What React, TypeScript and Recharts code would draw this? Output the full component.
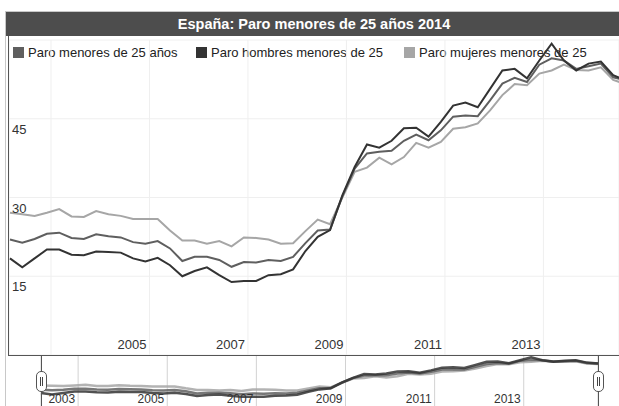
import React from 'react';
import { LineChart, Line, XAxis, YAxis, CartesianGrid } from 'recharts';

const title = 'España: Paro menores de 25 años 2014';

const quarters = [
  '2002T1', '2002T2', '2002T3', '2002T4',
  '2003T1', '2003T2', '2003T3', '2003T4',
  '2004T1', '2004T2', '2004T3', '2004T4',
  '2005T1', '2005T2', '2005T3', '2005T4',
  '2006T1', '2006T2', '2006T3', '2006T4',
  '2007T1', '2007T2', '2007T3', '2007T4',
  '2008T1', '2008T2', '2008T3', '2008T4',
  '2009T1', '2009T2', '2009T3', '2009T4',
  '2010T1', '2010T2', '2010T3', '2010T4',
  '2011T1', '2011T2', '2011T3', '2011T4',
  '2012T1', '2012T2', '2012T3', '2012T4',
  '2013T1', '2013T2', '2013T3', '2013T4',
  '2014T1', '2014T2', '2014T3',
];

// Paro menores de 25 años (total)
const paroTotal = [
  22.0, 21.4, 22.1, 23.1, 23.3, 22.3, 22.1, 23.0, 22.6, 22.4, 21.5, 21.2,
  21.7, 20.3, 17.9, 18.7, 18.7, 18.1, 16.8, 17.7, 17.6, 18.1, 17.9, 18.7,
  21.3, 23.7, 23.9, 30.2, 35.5, 38.4, 38.7, 38.9, 40.8, 42.0, 40.9, 42.8,
  45.4, 45.6, 45.5, 48.5, 51.7, 52.8, 52.0, 55.3, 56.5, 56.1, 54.5, 55.0,
  55.5, 52.9, 52.3,
];

// Paro hombres menores de 25
const paroHombres = [
  18.4, 16.7, 18.4, 20.1, 20.1, 19.1, 19.0, 19.7, 19.6, 19.5, 18.4, 17.8,
  18.5, 17.1, 15.0, 16.0, 16.7, 15.2, 13.9, 14.1, 14.1, 15.2, 15.4, 16.3,
  19.8, 22.5, 23.8, 30.4, 35.8, 40.1, 39.5, 40.8, 43.2, 43.3, 41.6, 44.4,
  47.5, 48.1, 47.2, 50.7, 54.2, 54.5, 52.7, 56.1, 59.3, 56.1, 54.2, 55.5,
  55.9, 53.3, 52.3,
];

// Paro mujeres menores de 25
const paroMujeres = [
  27.1, 26.8, 26.5, 27.1, 27.8, 26.4, 26.3, 27.4, 26.8, 26.5, 25.9, 25.9,
  25.9, 23.7, 21.8, 21.8, 21.2, 21.7, 20.7, 22.4, 22.3, 22.0, 21.2, 21.3,
  23.6, 25.8, 24.9, 30.0, 34.9, 35.7, 37.6, 36.3, 37.7, 40.4, 39.5, 40.6,
  43.1, 43.4, 44.1, 46.6, 49.5, 51.6, 51.4, 53.6, 54.2, 55.3, 54.3, 54.2,
  54.8, 52.4, 51.6,
];

const yearTicks = [2003, 2005, 2007, 2009, 2011, 2013];
const mainYearLabels = [2005, 2007, 2009, 2011, 2013];
const valueTicks = [15, 30, 45];

const seriesNames = [
  'Paro menores de 25 años',
  'Paro hombres menores de 25',
  'Paro mujeres menores de 25',
];

const COL_TOTAL = '#5f5f5f';
const COL_MEN = '#333333';
const COL_WOMEN = '#a6a6a6';

const data = quarters.map((q, i) => {
  const year = Number(q.slice(0, 4));
  const qi = Number(q.slice(5));
  return {
    q,
    t: year + (qi - 1) / 4 + 1 / 6,
    total: paroTotal[i],
    hombres: paroHombres[i],
    mujeres: paroMujeres[i],
  };
});

const FONT = 'Arial, "Liberation Sans", Helvetica, sans-serif';
const MAIN_BOTTOM = 355;

const legendItems = [
  { name: seriesNames[0], color: COL_TOTAL, left: 13 },
  { name: seriesNames[1], color: COL_MEN, left: 196 },
  { name: seriesNames[2], color: COL_WOMEN, left: 404 },
];

const MainXTick = (props: any) => {
  const { x, payload } = props;
  if (!mainYearLabels.includes(payload.value)) return <g />;
  return (
    <text x={x - 3} y={MAIN_BOTTOM - 6} textAnchor="end" fontSize={13} fill="#333" fontFamily={FONT}>
      {payload.value}
    </text>
  );
};

const YTick = (props: any) => {
  const { y, payload } = props;
  return (
    <text x={12} y={y + 15} textAnchor="start" fontSize={13} fill="#333" fontFamily={FONT}>
      {payload.value}
    </text>
  );
};

const NavXTick = (props: any) => {
  const { x, payload } = props;
  return (
    <text x={x - 3} y={47} textAnchor="end" fontSize={12} fill="#333" fontFamily={FONT}>
      {payload.value}
    </text>
  );
};

const Handle = ({ cx }: { cx: number }) => (
  <>
    <div style={{ position: 'absolute', left: cx - 0.5, top: 355, width: 1, height: 60, background: '#555' }} />
    <div
      style={{
        position: 'absolute',
        left: cx - 5,
        top: 371,
        width: 9,
        height: 19,
        background: '#fff',
        border: '1px solid #555',
        borderRadius: 5,
      }}
    >
      <div style={{ position: 'absolute', left: 2.5, top: 5, width: 1, height: 9, background: '#444' }} />
      <div style={{ position: 'absolute', left: 5, top: 5, width: 1, height: 9, background: '#444' }} />
    </div>
  </>
);

export default function App() {
  return (
    <div
      style={{
        position: 'absolute',
        left: 0,
        top: 0,
        width: 619,
        height: 406,
        overflow: 'hidden',
        background: '#fff',
        fontFamily: FONT,
      }}
    >
      {/* outer border */}
      <div style={{ position: 'absolute', left: 5, top: 11, width: 700, height: 500, border: '1px solid #c8c8c8' }} />
      {/* title bar */}
      <div
        style={{
          position: 'absolute',
          left: 6,
          top: 12,
          width: 616,
          height: 24,
          background: '#4d4d4d',
          color: '#fff',
          fontWeight: 'bold',
          fontSize: 14.5,
          lineHeight: '24px',
          textAlign: 'center',
        }}
      >
        {title}
      </div>
      {/* legend */}
      {legendItems.map((it) => (
        <div
          key={it.name}
          style={{ position: 'absolute', left: it.left, top: 45, height: 14, display: 'flex', alignItems: 'center', whiteSpace: 'nowrap' }}
        >
          <div style={{ width: 11, height: 11, background: it.color, marginRight: 4 }} />
          <span style={{ fontSize: 13, color: '#222' }}>{it.name}</span>
        </div>
      ))}
      {/* main chart */}
      <div style={{ position: 'absolute', left: 0, top: 0 }}>
        <LineChart width={619} height={356} data={data} margin={{ top: 40, right: 0, bottom: 0, left: 8 }}>
          <CartesianGrid stroke="#efefef" />
          <XAxis
            dataKey="t"
            type="number"
            domain={[2002.147, 2014.535]}
            allowDataOverflow
            ticks={yearTicks}
            interval={0}
            height={1}
            axisLine={false}
            tickLine={false}
            tick={<MainXTick />}
          />
          <YAxis
            type="number"
            domain={[0, 60]}
            ticks={valueTicks}
            interval={0}
            width={1}
            axisLine={false}
            tickLine={false}
            tick={<YTick />}
          />
          <Line type="linear" dataKey="mujeres" name={seriesNames[2]} stroke={COL_WOMEN} strokeWidth={2} dot={false} isAnimationActive={false} />
          <Line type="linear" dataKey="total" name={seriesNames[0]} stroke={COL_TOTAL} strokeWidth={2} dot={false} isAnimationActive={false} />
          <Line type="linear" dataKey="hombres" name={seriesNames[1]} stroke={COL_MEN} strokeWidth={2} dot={false} isAnimationActive={false} />
        </LineChart>
      </div>
      {/* plot frame */}
      <div style={{ position: 'absolute', left: 8, top: 36, width: 640, height: 319, borderLeft: '1px solid #555', borderBottom: '1px solid #555' }} />
      {/* navigator */}
      <div style={{ position: 'absolute', left: 0, top: 356 }}>
        <LineChart width={619} height={51} data={data} margin={{ top: 0, right: 21, bottom: 0, left: 41 }}>
          <CartesianGrid stroke="#d2d2d2" horizontal={false} />
          <XAxis
            dataKey="t"
            type="number"
            domain={[2002.1667, 2014.6667]}
            ticks={yearTicks}
            interval={0}
            height={1}
            axisLine={false}
            tickLine={false}
            tick={<NavXTick />}
          />
          <YAxis type="number" domain={[3.4, 60.9]} hide />
          <Line type="linear" dataKey="mujeres" stroke={COL_WOMEN} strokeWidth={2.5} strokeOpacity={0.85} dot={false} isAnimationActive={false} />
          <Line type="linear" dataKey="total" stroke={COL_TOTAL} strokeWidth={2.5} strokeOpacity={0.85} dot={false} isAnimationActive={false} />
          <Line type="linear" dataKey="hombres" stroke={COL_MEN} strokeWidth={2.5} strokeOpacity={0.85} dot={false} isAnimationActive={false} />
        </LineChart>
      </div>
      <Handle cx={41} />
      <Handle cx={598} />
    </div>
  );
}
